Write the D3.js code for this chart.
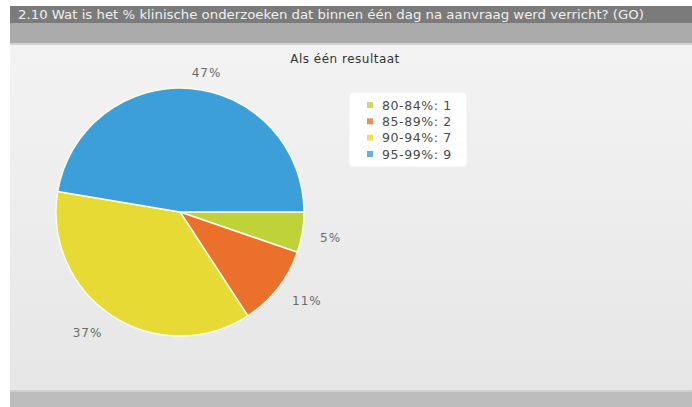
<!DOCTYPE html>
<html>
<head>
<meta charset="utf-8">
<script src="https://cdn.jsdelivr.net/npm/d3@7"></script>
<style>
  html, body { margin: 0; padding: 0; background: #ffffff; }
  svg { display: block; }
</style>
</head>
<body>
<svg id="chart" width="692" height="407"></svg>
<script>
// Answers per range of "within one day" percentages
const categories = ["80-84%", "85-89%", "90-94%", "95-99%"];
const counts = [1, 2, 7, 9];
const percentLabels = ["5%", "11%", "37%", "47%"];
const sliceColors = ["#bfd237", "#eb702c", "#e7da35", "#3c9fd9"];

const questionTitle = "2.10 Wat is het % klinische onderzoeken dat binnen één dag na aanvraag werd verricht? (GO)";
const chartTitle = "Als één resultaat";

const W = 692, H = 407;
const svg = d3.select("#chart");
const defs = svg.append("defs");

// panel background gradient
const bg = defs.append("linearGradient").attr("id", "panelBg")
  .attr("x1", 0).attr("y1", 0).attr("x2", 0).attr("y2", 1);
bg.append("stop").attr("offset", "0%").attr("stop-color", "#f3f3f3");
bg.append("stop").attr("offset", "100%").attr("stop-color", "#e6e6e6");

const panelX = 10;

// header bars
svg.append("rect").attr("x", panelX).attr("y", 6).attr("width", W - panelX).attr("height", 17).attr("fill", "#7b7b7b");
svg.append("rect").attr("x", panelX).attr("y", 23).attr("width", W - panelX).attr("height", 20).attr("fill", "#ababab");
svg.append("rect").attr("x", panelX).attr("y", 43).attr("width", W - panelX).attr("height", 2).attr("fill", "#d2d2d2");
// chart panel
svg.append("rect").attr("x", panelX).attr("y", 45).attr("width", W - panelX).attr("height", 345).attr("fill", "url(#panelBg)");
// footer bar
svg.append("rect").attr("x", panelX).attr("y", 390).attr("width", W - panelX).attr("height", 2).attr("fill", "#d0d0d0");
svg.append("rect").attr("x", panelX).attr("y", 392).attr("width", W - panelX).attr("height", 15).attr("fill", "#bdbdbd");

svg.append("text")
  .attr("x", 18).attr("y", 19)
  .attr("font-family", "DejaVu Sans, sans-serif")
  .attr("font-size", 11.5)
  .attr("fill", "#f0f0f0")
  .attr("textLength", 626).attr("lengthAdjust", "spacingAndGlyphs")
  .text(questionTitle);

svg.append("text")
  .attr("x", 345).attr("y", 63)
  .attr("text-anchor", "middle")
  .attr("font-family", "DejaVu Sans, sans-serif")
  .attr("font-size", 12)
  .attr("letter-spacing", 0.5)
  .attr("fill", "#333")
  .text(chartTitle);

// pie
const cx = 180, cy = 212, r = 124;
const data = categories.map((c, i) => ({ cat: c, value: counts[i], label: percentLabels[i], color: sliceColors[i] }));

const pie = d3.pie().sort(null).value(d => d.value)
  .startAngle(Math.PI / 2).endAngle(Math.PI / 2 + 2 * Math.PI);
const arcs = pie(data);
const arc = d3.arc().innerRadius(0).outerRadius(r);

const g = svg.append("g").attr("transform", `translate(${cx},${cy})`);
g.selectAll("path.slice").data(arcs).enter().append("path")
  .attr("class", "slice")
  .attr("d", arc)
  .attr("fill", d => d.data.color)
  .attr("stroke", "#fbfbe8")
  .attr("stroke-width", 1.5)
  .attr("stroke-linejoin", "round");

const labelR = 142;
g.selectAll("text.pct").data(arcs).enter().append("text")
  .attr("class", "pct")
  .each(function (d) {
    const a = (d.startAngle + d.endAngle) / 2;
    const x = Math.sin(a) * labelR, y = -Math.cos(a) * labelR;
    d3.select(this)
      .attr("x", x).attr("y", y + 2)
      .attr("dy", "0.35em")
      .attr("text-anchor", x >= 0 ? "start" : "end");
  })
  .attr("font-family", "DejaVu Sans, sans-serif")
  .attr("font-size", 12)
  .attr("letter-spacing", 1)
  .attr("fill", "#6a6a6a")
  .text(d => d.data.label);

// legend
const lg = svg.append("g").attr("transform", "translate(349,92)");
lg.append("rect").attr("width", 118).attr("height", 75).attr("rx", 4)
  .attr("fill", "#ffffff").attr("stroke", "#f0f0f0");
const rowY = d3.scalePoint().domain(categories).range([13, 62]);
const rows = lg.selectAll("g.row").data(data).enter().append("g")
  .attr("class", "row")
  .attr("transform", d => `translate(0,${rowY(d.cat)})`);
rows.append("rect").attr("x", 18).attr("y", -3).attr("width", 6).attr("height", 6)
  .attr("fill", d => d.color).attr("opacity", 0.8);
rows.append("text").attr("x", 33).attr("dy", "0.36em")
  .attr("font-family", "DejaVu Sans, sans-serif")
  .attr("font-size", 12.5)
  .attr("letter-spacing", 0.6)
  .attr("fill", "#4a4a4a")
  .text(d => `${d.cat}: ${d.value}`);
</script>
</body>
</html>
